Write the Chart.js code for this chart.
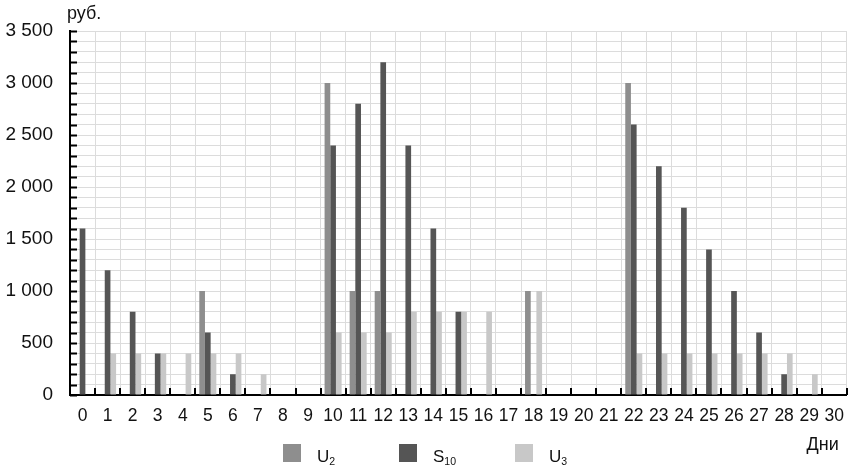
<!DOCTYPE html>
<html lang="ru">
<head>
<meta charset="utf-8">
<script src="https://cdn.jsdelivr.net/npm/chart.js@4.4.1/dist/chart.umd.min.js"></script>
<style>
  html, body { margin: 0; padding: 0; background: #fff; }
  #wrap { position: relative; width: 855px; height: 469px; }
  #legend {
    position: absolute; left: 283px; top: 444px;
    display: flex;
    font: 17px "Liberation Sans", Arial, sans-serif; color: #111;
  }
  #legend .item { display: flex; align-items: baseline; width: 116px; }
  #legend .box { display: inline-block; width: 18px; height: 18px; margin-right: 16px; }
  #legend sub { font-size: 0.62em; vertical-align: -0.3em; line-height: 0; }
</style>
</head>
<body>
<div id="wrap">
  <canvas id="chart" width="855" height="469"></canvas>
  <div id="legend"></div>
</div>
<script>
const days = ["0", "1", "2", "3", "4", "5", "6", "7", "8", "9", "10", "11", "12", "13", "14", "15",
  "16", "17", "18", "19", "20", "21", "22", "23", "24", "25", "26", "27", "28", "29", "30"]

const u2 = [0, 0, 0, 0, 0, 1000, 0, 0, 0, 0, 3000, 1000, 1000, 0, 0, 0,
  0, 0, 1000, 0, 0, 0, 3000, 0, 0, 0, 0, 0, 0, 0, 0]
const s10 = [1600, 1200, 800, 400, 0, 600, 200, 0, 0, 0, 2400, 2800, 3200, 2400, 1600, 800,
  0, 0, 0, 0, 0, 0, 2600, 2200, 1800, 1400, 1000, 600, 200, 0, 0]
const u3 = [0, 400, 400, 400, 400, 400, 400, 200, 0, 0, 600, 600, 600, 800, 800, 800,
  800, 0, 1000, 0, 0, 0, 400, 400, 400, 400, 400, 400, 400, 200, 0]

const yLabels = ["0", "500", "1 000", "1 500", "2 000", "2 500", "3 000", "3 500"]

const seriesNames = ["U", "S", "U"]
const seriesSubs = ["2", "10", "3"]
const seriesColors = ["#8e8e8e", "#555555", "#c8c8c8"]

const FONT = '"Liberation Sans", Arial, sans-serif'
Chart.defaults.font.family = FONT
Chart.defaults.color = "#111"

// ticks drawn inside the plot, plus the two axis captions
const axisExtras = {
  id: "axisExtras",
  afterDraw(chart) {
    const { ctx, chartArea: a, scales: { x, y } } = chart
    ctx.save()
    ctx.strokeStyle = "#000"
    ctx.lineWidth = 2
    ctx.beginPath()
    y.ticks.forEach(t => {
      const py = Math.round(y.getPixelForValue(t.value)) + 0.5
      ctx.moveTo(a.left, py)
      ctx.lineTo(a.left + 7, py)
    })
    const half = (x.getPixelForValue(1) - x.getPixelForValue(0)) / 2
    for (let i = 1; i <= days.length; i++) {
      const px = Math.round(x.getPixelForValue(i) - half)
      ctx.moveTo(px, a.bottom)
      ctx.lineTo(px, a.bottom - 7)
    }
    ctx.stroke()

    ctx.fillStyle = "#111"
    ctx.font = "18px " + FONT
    ctx.textBaseline = "alphabetic"
    ctx.textAlign = "left"
    ctx.fillText("руб.", a.left - 3, a.top - 12)
    ctx.textAlign = "right"
    ctx.fillText("Дни", a.right - 8, a.bottom + 55)
    ctx.restore()
  }
}

const chart = new Chart(document.getElementById("chart").getContext("2d"), {
  type: "bar",
  data: {
    labels: days,
    datasets: [u2, s10, u3].map((values, i) => ({
      label: seriesNames[i] + seriesSubs[i],
      data: values,
      backgroundColor: seriesColors[i],
      borderWidth: 0,
      categoryPercentage: 0.68,
      barPercentage: 1
    }))
  },
  options: {
    responsive: false,
    animation: false,
    layout: { padding: { top: 31, right: 2, left: 0, bottom: 0 } },
    plugins: {
      legend: { display: false },
      tooltip: { enabled: false }
    },
    scales: {
      x: {
        grid: { color: "#dcdcdc", lineWidth: 1, drawTicks: false, offset: true },
        border: { color: "#000", width: 2 },
        ticks: { font: { size: 17.5 }, padding: 11, maxRotation: 0, autoSkip: false },
        afterFit: (scale) => { scale.height = 74 }
      },
      y: {
        min: 0,
        max: 3500,
        grid: { color: "#dcdcdc", lineWidth: 1, drawTicks: false },
        border: { color: "#000", width: 2 },
        ticks: {
          stepSize: 100,
          autoSkip: false,
          padding: 17,
          font: { size: 19 },
          callback: (value) => value % 500 === 0 ? yLabels[value / 500] : ""
        },
        afterFit: (scale) => { scale.width = 70 }
      }
    }
  },
  plugins: [axisExtras]
})

document.getElementById("legend").innerHTML = seriesNames.map((name, i) =>
  `<div class="item"><span class="box" style="background:${seriesColors[i]}"></span>` +
  `<span>${name}<sub>${seriesSubs[i]}</sub></span></div>`
).join("")
</script>
</body>
</html>
